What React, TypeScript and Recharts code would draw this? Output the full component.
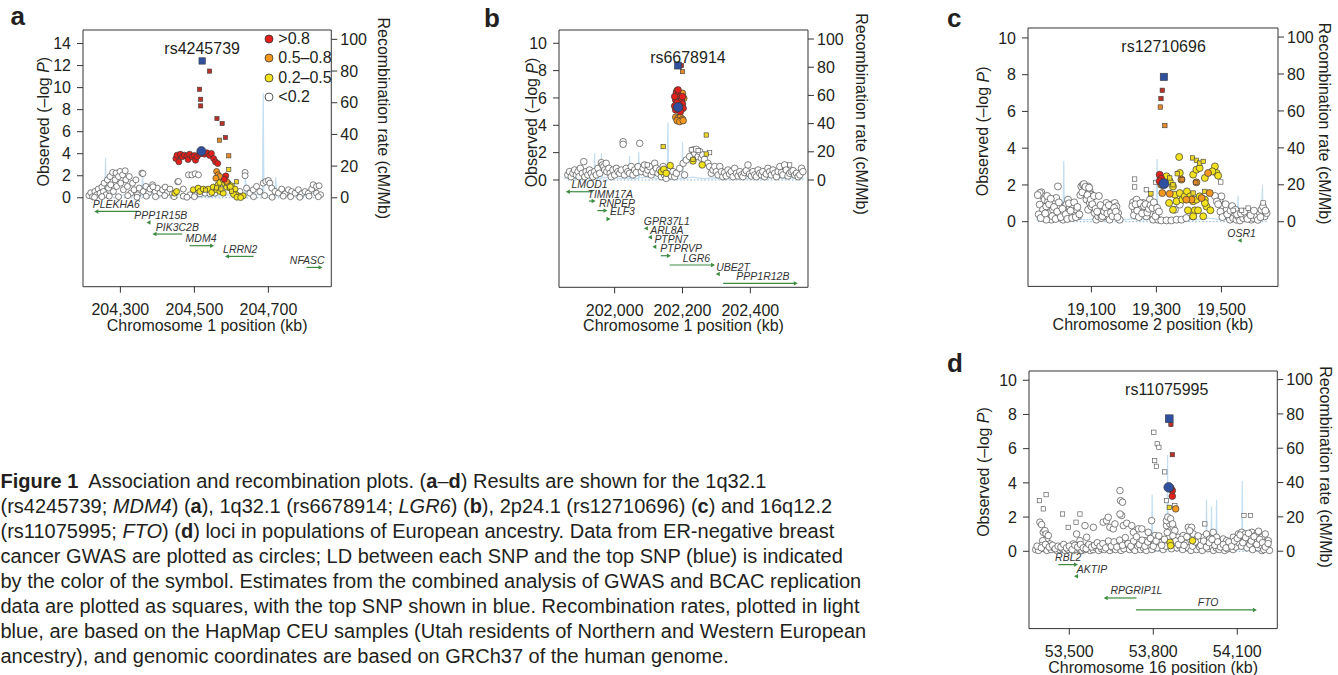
import React from 'react';
import {
  ComposedChart,
  Scatter,
  XAxis,
  YAxis,
  ReferenceLine,
  ReferenceDot,
  ReferenceArea,
  Legend,
} from 'recharts';

type Pt = [number, number];
// name, start (kb), end (kb), strand (+1 / -1), track (left axis units)
type Gene = [string, number, number, number, number];

const FONT = '"Liberation Sans", Arial, Helvetica, sans-serif';
const INK = '#231f20';
const GREEN = '#3d8b40';
const RECOMB = '#c3dff1';
const FILL = { red: '#e3201b', orange: '#f5981f', yellow: '#f3e21e', white: '#ffffff', blue: '#2f4f9f' };
const SQFILL = { red: '#b8322a', orange: '#e38a2b', yellow: '#ecd52a' };

const ldLabels = ['>0.8', '0.5–0.8', '0.2–0.5', '<0.2'];
const ldColors = [FILL.red, FILL.orange, FILL.yellow, FILL.white];

// ---------- a: 1q32.1, rs4245739 ----------
const aLow: Pt[] = [
  [204215, 0.2], [204220, 0.45], [204225, 0.1], [204231, 0.57], [204236, 0.27], [204240, 0.79], [204245, 0.42],
  [204250, 0.97], [204254, 0.57], [204256, 1.33], [204261, 0.27], [204265, 1.63], [204268, 0.88], [204272, 1.93],
  [204274, 1.18], [204279, 2.3], [204281, 0.57], [204286, 1.63], [204288, 2.24], [204290, 1.03], [204295, 1.93],
  [204299, 2.39], [204301, 1.33], [204306, 2.08], [204308, 0.73], [204313, 2.45], [204315, 1.63], [204319, 1.03],
  [204324, 1.93], [204328, 0.42], [204333, 1.33], [204337, 0.73], [204342, 1.63], [204346, 0.27], [204351, 0.88],
  [204358, 2.24], [204362, 0.57], [204369, 1.03], [204376, 0.42], [204380, 0.79], [204387, 1.18], [204394, 0.57],
  [204400, 0.88], [204407, 0.42], [204414, 0.73], [204421, 0.97], [204427, 0.48], [204434, 0.79], [204441, 0.36],
  [204361, 2.2], [204388, 1.0], [204455, 1.45], [204457, 1.48], [204470, 0.79], [204484, 2.08], [204493, 2.08],
  [204502, 2.18], [204511, 2.08], [204488, 0.27], [204502, 0.27], [204515, 0.36], [204529, 0.42], [204542, 0.36],
  [204556, 0.42], [204623, 0.57], [204637, 2.3], [204637, 2.0], [204641, 0.88], [204650, 0.42], [204659, 0.73],
  [204668, 1.03], [204677, 0.57], [204686, 1.33], [204693, 1.48], [204700, 1.57], [204704, 1.33], [204709, 0.88],
  [204718, 0.57], [204727, 0.42], [204736, 0.79], [204745, 0.36], [204754, 0.73], [204763, 0.57], [204772, 0.42],
  [204781, 0.73], [204790, 0.36], [204799, 0.57], [204808, 0.42], [204817, 0.79], [204821, 1.18], [204830, 1.03],
  [204837, 1.09], [204830, 0.42], [204841, 0.27], [204230, 0.05], [204250, 0.1], [204270, 0.15], [204295, 0.1],
  [204320, 0.2], [204345, 0.05], [204370, 0.15], [204395, 0.1], [204420, 0.2], [204445, 0.1], [204470, 0.15],
  [204480, 0.05], [204500, 0.1], [204660, 0.1], [204690, 0.2], [204710, 0.05], [204740, 0.15], [204760, 0.1],
  [204785, 0.05], [204810, 0.15], [204835, 0.1],
];
const aYellow: Pt[] = [
  [204447, 0.42], [204452, 0.57], [204497, 0.73], [204510, 0.88], [204515, 0.57], [204524, 0.79], [204537, 0.79],
  [204547, 0.48], [204551, 0.97], [204560, 0.73], [204564, 1.18], [204569, 1.39], [204569, 0.57], [204578, 1.63],
  [204578, 0.42], [204582, 1.27], [204587, 0.97], [204591, 1.33], [204596, 0.88], [204600, 1.09], [204605, 0.57],
  [204610, 0.79], [204614, 0.27], [204623, 0.12], [204632, 0.18], [204588, 1.36], [204597, 1.0], [204606, 0.3],
  [204615, 0.05], [204625, 0.02],
];
const aOrange: Pt[] = [[204560, 2.39], [204564, 2.08], [204569, 1.93], [204558, 1.78], [204587, 1.48]];
const aRed: Pt[] = [
  [204450, 3.56], [204453, 3.87], [204458, 3.26], [204462, 3.96], [204467, 3.72], [204473, 3.87], [204480, 3.78],
  [204483, 3.47], [204487, 3.96], [204494, 3.72], [204500, 3.84], [204503, 3.41], [204507, 3.72], [204514, 3.96],
  [204527, 3.96], [204534, 4.08], [204541, 3.84], [204546, 4.02], [204552, 3.56], [204557, 3.26], [204563, 3.11],
  [204585, 1.99], [204581, 1.69],
];
const aTop: Pt[] = [[204519, 4.23]];
const aSqLow: Pt[] = [];
const aSqYellow: Pt[] = [[204593, 2.57], [204614, 1.45], [204530, 0.7], [204572, 0.8], [204600, 0.6], [204560, 0.9]];
const aSqOrange: Pt[] = [[204568, 5.23], [204593, 3.81]];
const aSqRed: Pt[] = [[204541, 11.5], [204514, 9.85], [204517, 8.94], [204517, 8.34], [204561, 7.19], [204575, 6.74], [204584, 5.47]];
const aSqTop: Pt[] = [[204521, 12.42]];
const aRecomb: Pt[] = [
  [204210, 1], [204225, 2.5], [204240, 1.2], [204258, 1.5], [204260, 25], [204262, 1.5], [204280, 3], [204300, 1.5],
  [204320, 2], [204340, 1], [204358, 1.5], [204360, 18], [204362, 1.2], [204380, 2.5], [204400, 1], [204420, 3],
  [204440, 1.5], [204460, 2], [204480, 1], [204500, 0.5], [204520, 0.5], [204540, 0.5], [204560, 1], [204580, 1.5],
  [204600, 2], [204620, 1], [204636, 1.5], [204638, 15], [204640, 1.5], [204660, 2.5], [204684, 1.5], [204686, 66],
  [204688, 2], [204700, 1.5], [204718, 1], [204720, 13], [204722, 1.5], [204740, 3], [204760, 1.5], [204780, 2.5],
  [204800, 1], [204820, 3], [204840, 1.5],
];
const aGenes: Gene[] = [
  ['PLEKHA6', 204235, 204350, -1, -1.24],
  ['PPP1R15B', 204376, 204380, -1, -2.24],
  ['PIK3C2B', 204392, 204467, -1, -3.29],
  ['MDM4', 204487, 204548, 1, -4.35],
  ['LRRN2', 204588, 204660, -1, -5.32],
  ['NFASC', 204803, 204841, 1, -6.32],
];
const aGeneLabelKb = [204289, 204409, 204454, 204518, 204624, 204805];

// ---------- b: 1q32.1, rs6678914 ----------
const bLow: Pt[] = [
  [201862, 0.37], [201867, 0.61], [201872, 0.24], [201877, 0.49], [201882, 0.73], [201887, 0.37], [201892, 0.61],
  [201895, 0.24], [201899, 0.85], [201905, 0.49], [201909, 1.34], [201912, 0.24], [201916, 0.61], [201921, 0.37],
  [201926, 0.73], [201931, 0.49], [201936, 0.24], [201941, 0.61], [201946, 0.37], [201951, 0.85], [201956, 0.49],
  [201961, 1.27], [201964, 1.1], [201968, 0.98], [201971, 0.73], [201975, 1.22], [201977, 0.61], [201983, 0.85],
  [201987, 0.49], [201990, 0.24], [201995, 0.73], [202000, 0.37], [202005, 0.85], [202010, 0.61], [202015, 0.49],
  [202020, 0.73], [202025, 2.8], [202025, 2.61], [202029, 0.37], [202034, 0.85], [202039, 0.61], [202044, 0.49],
  [202049, 0.98], [202054, 0.37], [202059, 0.73], [202064, 0.54], [202069, 0.98], [202074, 2.68], [202079, 0.61],
  [202084, 0.85], [202088, 1.1], [202093, 0.49], [202098, 0.73], [202103, 0.98], [202108, 0.37], [202113, 0.61],
  [202118, 1.22], [202123, 0.85], [202128, 0.49], [202133, 0.73], [202138, 0.24], [202143, 0.98], [202147, 0.37],
  [202152, 0.12], [202157, 0.49], [202162, 0.73], [202167, 0.29], [202172, 0.61], [202177, 0.24], [202182, 0.49],
  [202192, 0.85], [202202, 1.22], [202206, 0.37], [202211, 1.46], [202221, 1.71], [202231, 2.2], [202236, 1.95],
  [202241, 2.24], [202246, 1.71], [202251, 2.07], [202256, 1.59], [202260, 1.83], [202265, 1.51], [202275, 1.22],
  [202280, 0.98], [202285, 0.49], [202290, 0.73], [202295, 0.98], [202300, 0.61], [202305, 0.37], [202310, 0.98],
  [202315, 0.61], [202319, 0.24], [202324, 0.54], [202329, 0.29], [202334, 0.73], [202339, 0.44], [202344, 0.61],
  [202349, 0.24], [202354, 0.85], [202359, 0.49], [202364, 0.29], [202369, 0.61], [202374, 0.37], [202378, 0.24],
  [202383, 0.54], [202388, 0.68], [202393, 1.1], [202398, 0.44], [202403, 0.29], [202408, 0.61], [202413, 0.37],
  [202418, 0.24], [202423, 0.73], [202428, 0.49], [202433, 0.37], [202437, 0.61], [202442, 0.24], [202447, 0.44],
  [202452, 0.85], [202457, 0.61], [202462, 0.37], [202467, 0.73], [202472, 0.49], [202477, 0.24], [202482, 0.61],
  [202487, 0.98], [202492, 0.54], [202496, 0.37], [202501, 1.1], [202506, 0.73], [202511, 0.29], [202516, 0.49],
  [202521, 0.61], [202526, 0.68], [202531, 0.37], [202536, 0.49], [202541, 0.24], [202546, 0.37], [202551, 0.85],
  [202555, 0.61],
];
const bYellow: Pt[] = [[202138, 0.61], [202145, 0.78], [202152, 0.49], [202164, 1.05], [202231, 1.39], [202258, 1.1]];
const bOrange: Pt[] = [
  [202180, 4.59], [202187, 4.51], [202194, 4.59], [202200, 4.44], [202184, 4.34], [202192, 4.27], [202202, 4.34],
  [202204, 5.98], [202184, 6.54], [202200, 6.34],
];
const bRed: Pt[] = [
  [202182, 6.39], [202187, 6.22], [202192, 6.05], [202180, 5.85], [202197, 5.85], [202184, 5.66], [202200, 5.56],
  [202177, 5.41], [202192, 5.41], [202202, 5.24], [202180, 5.12], [202194, 5.0], [202187, 6.59], [202200, 6.1],
  [202177, 6.1],
];
const bTop: Pt[] = [[202187, 5.32]];
const bSqLow: Pt[] = [[202226, 2.2], [202246, 2.15], [202280, 2.0], [202096, 1.1], [202516, 1.1]];
const bSqYellow: Pt[] = [[202143, 2.44], [202270, 3.29], [202270, 1.9], [202231, 1.51]];
const bSqOrange: Pt[] = [[202200, 7.93]];
const bSqRed: Pt[] = [[202197, 8.37]];
const bSqTop: Pt[] = [[202187, 8.37]];
const bRecomb: Pt[] = [
  [201850, 1], [201870, 2], [201890, 1], [201910, 1.5], [201940, 1], [201941, 19], [201943, 1], [201960, 1],
  [201961, 19], [201963, 1.5], [201990, 2], [202020, 1], [202043, 1.5], [202044, 17], [202046, 1], [202070, 1],
  [202071, 20], [202073, 1.5], [202100, 2], [202130, 1], [202155, 1], [202157, 41], [202159, 1.5], [202180, 1],
  [202199, 1], [202200, 27], [202202, 1], [202230, 2], [202260, 1], [202290, 1.5], [202320, 1], [202350, 2],
  [202380, 1], [202410, 1.5], [202440, 1], [202470, 2], [202500, 1], [202530, 1.5], [202560, 1],
];
const bGenes: Gene[] = [
  ['LMOD1', 201862, 201936, -1, -0.86],
  ['TIMM17A', 201924, 201938, 1, -1.54],
  ['RNPEP', 201949, 201973, 1, -2.24],
  ['ELF3', 201980, 201982, 1, -2.85],
  ['GPR37L1', 202092, 202094, -1, -3.54],
  ['ARL8A', 202104, 202106, -1, -4.19],
  ['PTPN7', 202117, 202119, -1, -4.88],
  ['PTPRVP', 202136, 202160, 1, -5.54],
  ['LGR6', 202162, 202290, 1, -6.22],
  ['UBE2T', 202304, 202306, -1, -6.88],
  ['PPP1R12B', 202320, 202534, 1, -7.56],
];
const bGeneLabelKb = [201926, 201987, 202007, 202023, 202154, 202154, 202167, 202196, 202241, 202349, 202437];

// ---------- c: 2p24.1, rs12710696 ----------
const cLow: Pt[] = [
  [18946, 1.6], [18951, 1.38], [18956, 1.2], [18941, 0.93], [18951, 0.65], [18961, 0.83], [18967, 1.11], [18972, 0.47],
  [18977, 0.11], [18961, 0.11], [18982, 0.65], [18987, 1.02], [18992, 1.29], [18997, 1.92], [19003, 0.83], [19008, 0.47],
  [19013, 0.11], [19018, 0.65], [19023, 0.93], [19028, 1.2], [19033, 0.74], [19038, 0.38], [19044, 0.83], [19049, 0.47],
  [19054, 0.65], [19059, 0.29], [19069, 1.92], [19074, 2.01], [19079, 1.74], [19085, 1.56], [19090, 1.92], [19095, 1.65],
  [19100, 1.47], [19105, 1.38], [19085, 1.2], [19095, 1.02], [19090, 0.65], [19100, 0.83], [19110, 0.47], [19115, 0.11],
  [19121, 0.29], [19126, 0.47], [19131, 0.2], [19136, 0.65], [19141, 0.83], [19146, 1.02], [19151, 0.65], [19156, 0.74],
  [19162, 0.93], [19167, 0.65], [19172, 1.02], [19177, 0.83], [19182, 0.47], [19187, 0.11], [19146, 0.29], [19156, 0.11],
  [18941, 1.56], [19228, 1.05], [19233, 0.65], [19239, 1.2], [19244, 0.93], [19249, 0.47], [19254, 0.74], [19259, 1.02],
  [19264, 0.65], [19269, 0.29], [19274, 0.83], [19280, 1.2], [19285, 0.47], [19290, 0.11], [19295, 0.83], [19300, 0.47],
  [19305, 0.11], [19315, 0.07], [19331, 0.07], [19346, 0.07], [19362, 0.11], [19377, 0.11], [19392, 0.2], [19413, 0.29],
  [19357, 0.65], [19372, 0.93], [19495, 1.2], [19500, 1.38], [19505, 0.83], [19510, 0.47], [19516, 0.65], [19521, 0.29],
  [19526, 0.11], [19531, 0.38], [19536, 0.2], [19541, 0.47], [19546, 0.11], [19551, 0.29], [19557, 0.07], [19567, 0.2],
  [19577, 0.29], [19587, 0.47], [19592, 0.11], [19598, 0.2], [19608, 0.29], [19618, 0.47], [19623, 0.65], [19628, 0.83],
  [19633, 0.29], [19639, 0.47], [19480, 1.4], [19486, 1.1],
  [18935, 1.45], [18938, 0.4], [18944, 0.2], [18958, 0.45], [18964, 1.4], [18970, 0.95], [18975, 1.25], [18980, 0.3],
  [18985, 0.8], [18990, 0.15], [18995, 0.55], [19000, 1.05], [19006, 0.25], [19011, 0.7], [19021, 0.4], [19026, 0.15],
  [19031, 1.0], [19036, 0.6], [19041, 0.2], [19047, 1.05], [19052, 0.25], [19057, 0.8], [19063, 0.4], [19066, 1.45],
  [19072, 1.6], [19077, 2.05], [19082, 1.9], [19088, 1.45], [19093, 1.85], [19098, 1.2], [19103, 0.95], [19108, 1.4],
  [19113, 0.7], [19118, 0.55], [19123, 1.4], [19128, 0.9], [19134, 0.3], [19139, 0.55], [19144, 0.75], [19149, 0.45],
  [19154, 0.9], [19160, 0.5], [19165, 0.3], [19170, 0.75], [19175, 0.55], [19180, 0.25], [19226, 0.85], [19231, 0.35],
  [19236, 0.95], [19241, 0.6], [19246, 0.25], [19251, 1.0], [19256, 0.45], [19262, 0.85], [19267, 0.95], [19272, 0.5],
  [19277, 0.7], [19282, 0.9], [19288, 0.75], [19292, 1.05], [19297, 0.3], [19302, 0.75], [19308, 0.55], [19490, 0.95],
  [19497, 0.55], [19503, 0.25], [19513, 0.95], [19518, 0.4], [19528, 0.6], [19533, 0.85], [19543, 0.65], [19548, 0.4],
  [19560, 0.45], [19570, 0.55], [19580, 0.15], [19590, 0.35], [19600, 0.6], [19612, 0.1], [19620, 0.25], [19635, 0.6],
];
const cYellow: Pt[] = [
  [19370, 3.52], [19331, 2.47], [19341, 2.2], [19351, 1.92], [19357, 1.47], [19362, 1.11], [19372, 1.56], [19380, 1.2],
  [19387, 1.38], [19394, 1.65], [19404, 1.38], [19413, 1.11], [19418, 0.62], [19428, 0.62], [19444, 0.29], [19413, 0.29],
  [19397, 0.62], [19423, 1.2], [19433, 1.38], [19449, 1.2], [19454, 0.83], [19466, 0.62], [19480, 3.01], [19485, 2.65],
  [19472, 2.74], [19490, 2.5], [19449, 1.02], [19413, 2.56], [19423, 2.83], [19433, 2.92], [19449, 2.38], [19372, 2.65],
  [19339, 1.02], [19351, 0.65],
];
const cOrange: Pt[] = [
  [19315, 2.01], [19318, 1.56], [19341, 1.52], [19408, 1.2], [19423, 2.14], [19439, 1.29], [19459, 2.65], [19464, 1.56],
  [19377, 2.29], [19392, 1.2],
];
const cRed: Pt[] = [[19310, 2.56], [19315, 2.34], [19310, 2.2]];
const cTop: Pt[] = [[19323, 2.07]];
const cSqLow: Pt[] = [[19233, 2.32], [19233, 1.89], [19269, 1.74], [19298, 2.14], [19498, 2.16], [19536, 0.62], [19562, 0.62], [19582, 0.74], [19628, 1.02]];
const cSqYellow: Pt[] = [
  [19411, 3.47], [19423, 3.34], [19433, 3.19], [19444, 3.28], [19364, 2.61], [19341, 2.38], [19351, 2.01], [19283, 1.52],
  [19449, 1.65], [19413, 1.56],
];
const cSqOrange: Pt[] = [[19312, 6.24], [19326, 5.23], [19379, 2.29], [19421, 2.14]];
const cSqRed: Pt[] = [[19318, 7.15], [19314, 6.7]];
const cSqTop: Pt[] = [[19323, 7.88]];
const cRecomb: Pt[] = [
  [18930, 1], [18960, 2], [18990, 1], [19013, 1.5], [19015, 33], [19017, 1], [19050, 2], [19080, 1], [19110, 1.5],
  [19140, 1], [19170, 2], [19200, 1], [19230, 1.5], [19260, 1], [19300, 1.5], [19302, 34], [19304, 1], [19340, 1],
  [19380, 1.5], [19420, 1], [19460, 2], [19500, 1], [19530, 1.5], [19549, 1], [19551, 14], [19553, 1], [19590, 1.5],
  [19624, 1], [19626, 20], [19628, 1], [19640, 1.5],
];
const cGenes: Gene[] = [['OSR1', 19556, 19558, -1, -1.02]];
const cGeneLabelKb = [19562];

// ---------- d: 16q12.2, rs11075995 ----------
const dLow: Pt[] = [
  [53395, 1.7], [53401, 1.56], [53407, 1.11], [53413, 1.21], [53417, 1.01], [53419, 0.72], [53425, 0.92], [53405, 0.62],
  [53401, 0.33], [53395, 0.14], [53431, 0.43], [53556, 1.5], [53586, 1.4], [53562, 0.82], [53538, 0.62], [53526, 1.01],
  [53514, 0.43], [53598, 0.23], [53621, 1.7], [53633, 1.79], [53639, 1.99], [53645, 1.4], [53657, 1.31], [53663, 1.6],
  [53681, 3.55], [53683, 2.96], [53690, 2.87], [53687, 2.09], [53681, 2.18], [53693, 1.5], [53705, 1.64], [53723, 1.5],
  [53729, 1.11], [53747, 1.31], [53759, 1.31], [53770, 0.62], [53782, 1.11], [53794, 1.79], [53806, 0.92], [53818, 0.82],
  [53847, 1.5], [53859, 1.6], [53871, 1.4], [53877, 1.21], [53889, 0.82], [53895, 0.62], [53907, 0.92], [53925, 1.4],
  [53937, 1.4], [53943, 1.01], [53955, 0.72], [53967, 0.62], [53979, 0.82], [53990, 1.01], [54002, 0.72], [54014, 1.11],
  [54026, 0.82], [54038, 0.43], [54050, 0.72], [54062, 0.62], [54074, 0.23], [54086, 0.82], [54104, 1.01], [54116, 1.11],
  [54128, 1.01], [54140, 0.82], [54152, 1.11], [54164, 0.92], [54176, 1.17], [54188, 0.82], [54200, 1.01], [54211, 0.62],
  [54188, 0.04], [53847, 1.79], [53852, 2.0], [53862, 1.9], [53869, 1.6],
  [53380, 0.1], [53390, 0.05], [53410, 0.15], [53420, 0.05], [53435, 0.1], [53445, 0.2], [53455, 0.05], [53465, 0.1],
  [53475, 0.15], [53485, 0.05], [53495, 0.1], [53505, 0.2], [53515, 0.05], [53525, 0.1], [53535, 0.15], [53545, 0.05],
  [53555, 0.1], [53565, 0.3], [53575, 0.05], [53585, 0.1], [53595, 0.2], [53605, 0.05], [53615, 0.15], [53625, 0.1],
  [53635, 0.35], [53645, 0.05], [53655, 0.2], [53665, 0.1], [53675, 0.3], [53685, 0.05], [53695, 0.15], [53705, 0.4],
  [53715, 0.1], [53725, 0.2], [53735, 0.05], [53745, 0.3], [53755, 0.1], [53765, 0.2], [53775, 0.05], [53785, 0.35],
  [53795, 0.1], [53805, 0.45], [53815, 0.2], [53825, 0.5], [53835, 0.1], [53845, 0.3], [53855, 0.8], [53865, 0.15],
  [53875, 0.5], [53885, 0.2], [53895, 0.3], [53905, 0.1], [53915, 0.45], [53925, 0.2], [53935, 0.05], [53945, 0.3],
  [53955, 0.1], [53965, 0.25], [53975, 0.05], [53985, 0.4], [53995, 0.15], [54005, 0.3], [54015, 0.05], [54025, 0.2],
  [54035, 0.1], [54045, 0.3], [54055, 0.05], [54065, 0.15], [54075, 0.4], [54085, 0.1], [54095, 0.25], [54105, 0.5],
  [54115, 0.3], [54125, 0.6], [54135, 0.2], [54145, 0.4], [54155, 0.1], [54165, 0.5], [54175, 0.2], [54185, 0.35],
  [54195, 0.1], [54205, 0.3], [54215, 0.05],
  [53385, 0.3], [53400, 0.2], [53415, 0.4], [53428, 0.25], [53440, 0.35], [53450, 0.15], [53460, 0.3], [53470, 0.25],
  [53480, 0.4], [53490, 0.2], [53500, 0.3], [53510, 0.1], [53520, 0.35], [53530, 0.25], [53540, 0.4], [53550, 0.2],
  [53560, 0.15], [53570, 0.4], [53580, 0.25], [53590, 0.35], [53600, 0.5], [53610, 0.3], [53620, 0.45], [53630, 0.2],
  [53640, 0.6], [53650, 0.3], [53660, 0.55], [53670, 0.25], [53680, 0.65], [53690, 0.35], [53700, 0.8], [53710, 0.45],
  [53720, 0.3], [53730, 0.6], [53740, 0.85], [53750, 0.4], [53760, 0.65], [53770, 0.3], [53780, 0.55], [53790, 0.75],
  [53800, 0.3], [53810, 0.6], [53820, 0.9], [53830, 0.35], [53840, 0.7], [53850, 1.1], [53870, 0.9], [53880, 0.6],
  [53890, 0.4], [53900, 0.7], [53910, 0.35], [53920, 0.85], [53930, 1.2], [53940, 0.3], [53950, 0.55], [53960, 0.9],
  [53970, 0.35], [53980, 0.6], [53990, 0.25], [54000, 0.5], [54010, 0.7], [54020, 0.35], [54030, 0.55], [54040, 0.25],
  [54050, 0.4], [54060, 0.2], [54070, 0.55], [54080, 0.3], [54090, 0.6], [54100, 0.75], [54110, 0.95], [54120, 0.5],
  [54130, 0.8], [54140, 1.05], [54150, 0.6], [54160, 0.85], [54170, 0.4], [54180, 0.7], [54190, 0.5], [54200, 0.25],
  [54210, 0.45],
];
const dYellow: Pt[] = [[53860, 0.53], [53862, 0.33], [53940, 0.62]];
const dOrange: Pt[] = [[53880, 2.48]];
const dRed: Pt[] = [[53868, 3.55], [53868, 3.22], [53863, 3.7]];
const dTop: Pt[] = [[53855, 3.74]];
const dSqLow: Pt[] = [
  [53802, 6.96], [53814, 6.28], [53820, 6.08], [53805, 5.3], [53811, 4.97], [53841, 4.64], [53847, 2.96], [53393, 2.96],
  [53417, 3.31], [53407, 2.48], [53476, 2.18], [53496, 1.4], [53524, 1.7], [53538, 2.18], [53984, 1.6], [54124, 2.09],
  [54147, 2.09], [53877, 2.67],
];
const dSqYellow: Pt[] = [[53857, 2.57]];
const dSqOrange: Pt[] = [];
const dSqRed: Pt[] = [[53863, 7.41], [53868, 5.65]];
const dSqTop: Pt[] = [[53857, 7.75]];
const dRecomb: Pt[] = [
  [53370, 1], [53400, 2], [53430, 1], [53460, 1.5], [53490, 1], [53520, 2], [53550, 1], [53580, 1.5], [53610, 1],
  [53640, 2], [53670, 1], [53700, 1.5], [53730, 1], [53760, 2], [53794, 1], [53796, 33], [53798, 1], [53830, 1.5],
  [53849, 1], [53851, 56], [53853, 1], [53880, 2], [53910, 1], [53940, 1.5], [53970, 1], [53988, 1.5], [53990, 30],
  [53992, 1], [54006, 1], [54008, 26], [54010, 1], [54024, 1], [54026, 30], [54028, 1], [54060, 1.5], [54090, 1],
  [54116, 1.5], [54118, 41], [54120, 1], [54150, 2], [54180, 1], [54210, 1.5],
];
const dGenes: Gene[] = [
  ['RBL2', 53461, 53524, 1, -0.78],
  ['AKTIP', 53524, 53532, -1, -1.46],
  ['RPGRIP1L', 53630, 53740, -1, -2.73],
  ['FTO', 53738, 54163, 1, -3.43],
];
const dGeneLabelKb = [53496, 53581, 53740, 53996];

const yTicks14 = [0, 2, 4, 6, 8, 10, 12, 14];
const yTicks10 = [0, 2, 4, 6, 8, 10];
const rTicks = [0, 20, 40, 60, 80, 100];

const pts = (a: Pt[]) => a.map(([x, y]) => ({ x, y }));
const fmt = (v: number) => v.toLocaleString('en-US');

const circle = (fill: string, r: number, stroke = '#3a3a3a') => (p: any) => (
  <circle cx={p.cx} cy={p.cy} r={r} fill={fill} stroke={stroke} strokeWidth={0.7} />
);
const square = (fill: string, s: number, stroke = '#3a3a3a') => (p: any) => (
  <rect x={p.cx - s / 2} y={p.cy - s / 2} width={s} height={s} fill={fill} stroke={stroke} strokeWidth={0.6} />
);

const geneShape = (g: Gene, labelKb: number) => (p: any) => {
  const [name, start, end, strand] = g;
  const { x1, y1, x2 } = p;
  const xs = Math.min(x1, x2);
  const xe = Math.max(x1, x2);
  const pxPerKb = (x2 - x1) / (end - start);
  const lx = x1 + (labelKb - start) * pxPerKb;
  const head = strand > 0 ? `M${xe + 2},${y1} l-4,-2.2 v4.4 z` : `M${xs - 2},${y1} l4,-2.2 v4.4 z`;
  return (
    <g>
      <line x1={xs} y1={y1} x2={xe} y2={y1} stroke={GREEN} strokeWidth={1.2} />
      <path d={head} fill={GREEN} />
      <text x={lx} y={y1 - 3.5} textAnchor="middle" fontSize={10.5} fontStyle="italic" fill="#333" fontFamily={FONT}>
        {name}
      </text>
    </g>
  );
};

interface PanelSpec {
  snp: string;
  chrom: string;
  box: { left: number; top: number; w: number; h: number };
  x: [number, number];
  xTicks: number[];
  y: [number, number];
  yTicks: number[];
  r: [number, number];
  snpAt: Pt;
  circles: Pt[][]; // low, yellow, orange, red, top
  squares: Pt[][]; // low, yellow, orange, red, top
  recomb: Pt[];
  genes: Gene[];
  geneLabels: number[];
  titles: { yx: number; yy: number; rx: number; ry: number };
  marks: { r: number; rTop: number; sq: number; sqTop: number };
  legend?: boolean;
}

const LW = 80;
const RW = 72;
const TM = 30;
const XH = 56;
const tickStyle = { fontSize: 16, fill: INK, fontFamily: FONT };

function LocusPanel({ p }: { p: PanelSpec }) {
  const ox = p.box.left - LW;
  const oy = p.box.top - TM;
  const lx = (v: number) => v - ox;
  const ly = (v: number) => v - oy;
  const xs = p.circles[0].map((d) => d[0]);
  const span = [Math.min(...xs), Math.max(...xs)];
  const [cLow, cYel, cOra, cRed, cTop] = p.circles;
  const [sLow, sYel, sOra, sRed, sTop] = p.squares;
  const m = p.marks;

  const yTitle = () => {
    const x = lx(p.titles.yx);
    const y = ly(p.titles.yy);
    return (
      <text x={x} y={y} transform={`rotate(-90 ${x} ${y})`} textAnchor="middle" dominantBaseline="central"
        fontSize={16} fill={INK} fontFamily={FONT}>
        Observed (–log <tspan fontStyle="italic">P</tspan>)
      </text>
    );
  };
  const rTitle = () => {
    const x = lx(p.titles.rx);
    const y = ly(p.titles.ry);
    return (
      <text x={x} y={y} transform={`rotate(90 ${x} ${y})`} textAnchor="middle" dominantBaseline="central"
        fontSize={16} fill={INK} fontFamily={FONT}>
        Recombination rate (cM/Mb)
      </text>
    );
  };
  const xTitle = () => (
    <text x={LW + p.box.w / 2} y={TM + p.box.h + 38.5} textAnchor="middle" dominantBaseline="central"
      fontSize={16} fill={INK} fontFamily={FONT}>
      {p.chrom}
    </text>
  );

  return (
    <div style={{ position: 'absolute', left: ox, top: oy }}>
      <ComposedChart width={LW + p.box.w + RW} height={TM + p.box.h + XH} margin={{ top: TM, right: 0, bottom: 0, left: 0 }}>
        <XAxis dataKey="x" type="number" domain={p.x} ticks={p.xTicks} allowDataOverflow interval={0}
          height={XH} axisLine={false} tickLine={{ stroke: '#333' }} tickSize={6} tickMargin={11}
          tick={tickStyle} tickFormatter={fmt} label={xTitle} />
        <YAxis yAxisId="left" dataKey="y" type="number" domain={p.y} ticks={p.yTicks} allowDataOverflow interval={0}
          width={LW} axisLine={false} tickLine={{ stroke: '#333' }} tickSize={6} tickMargin={6}
          tick={tickStyle} label={yTitle} />
        <YAxis yAxisId="right" orientation="right" dataKey="y" type="number" domain={p.r} ticks={rTicks}
          allowDataOverflow interval={0} width={RW} axisLine={false} tickLine={{ stroke: '#333' }} tickSize={6}
          tickMargin={3} tick={tickStyle} label={rTitle} />

        <Scatter yAxisId="right" data={pts(p.recomb)} line={{ stroke: RECOMB, strokeWidth: 1.2 }}
          shape={() => <g />} isAnimationActive={false} />
        <ReferenceLine yAxisId="left" segment={[{ x: span[0], y: 0 }, { x: span[1], y: 0 }]}
          stroke="#6b9cc6" strokeDasharray="1.5 2" strokeWidth={0.8} ifOverflow="visible" />

        {p.genes.map((g, i) => (
          <ReferenceLine key={g[0]} yAxisId="left" segment={[{ x: g[1], y: g[4] }, { x: g[2], y: g[4] }]}
            ifOverflow="visible" shape={geneShape(g, p.geneLabels[i])} />
        ))}

        <Scatter yAxisId="left" data={pts(cLow)} shape={circle(FILL.white, m.r, '#4a4a4a')} isAnimationActive={false} />
        <Scatter yAxisId="left" data={pts(sLow)} shape={square(FILL.white, m.sq, '#4a4a4a')} isAnimationActive={false} />
        <Scatter yAxisId="left" data={pts(cYel)} shape={circle(FILL.yellow, m.r)} isAnimationActive={false} />
        <Scatter yAxisId="left" data={pts(sYel)} shape={square(SQFILL.yellow, m.sq)} isAnimationActive={false} />
        <Scatter yAxisId="left" data={pts(cOra)} shape={circle(FILL.orange, m.r)} isAnimationActive={false} />
        <Scatter yAxisId="left" data={pts(sOra)} shape={square(SQFILL.orange, m.sq)} isAnimationActive={false} />
        <Scatter yAxisId="left" data={pts(cRed)} shape={circle(FILL.red, m.r)} isAnimationActive={false} />
        <Scatter yAxisId="left" data={pts(sRed)} shape={square(SQFILL.red, m.sq)} isAnimationActive={false} />
        <Scatter yAxisId="left" data={pts(cTop)} shape={circle(FILL.blue, m.rTop)} isAnimationActive={false} />
        <Scatter yAxisId="left" data={pts(sTop)} shape={square(FILL.blue, m.sqTop)} isAnimationActive={false} />

        <ReferenceDot yAxisId="left" x={p.snpAt[0]} y={p.snpAt[1]} r={0} fill="none" stroke="none" ifOverflow="visible"
          label={{ value: p.snp, position: 'center', fontSize: 16, fill: INK, fontFamily: FONT }} />
        <ReferenceArea yAxisId="left" x1={p.x[0]} x2={p.x[1]} y1={p.y[0]} y2={p.y[1]} fill="none"
          fillOpacity={0} stroke="#333" strokeWidth={1} ifOverflow="visible" />

        {p.legend && (
          <Legend layout="vertical" align="center" verticalAlign="middle"
            wrapperStyle={{ left: lx(264.3), top: ly(29.3), width: 'auto' }}
            content={() => (
              <div style={{ fontFamily: FONT, fontSize: 16, color: INK }}>
                {ldLabels.map((t, i) => (
                  <div key={t} style={{ display: 'flex', alignItems: 'center', height: 19.33 }}>
                    <svg width={10} height={10} style={{ display: 'block' }}>
                      <circle cx={5} cy={5} r={4} fill={ldColors[i]} stroke="#333" strokeWidth={0.8} />
                    </svg>
                    <span style={{ marginLeft: 4 }}>{t}</span>
                  </div>
                ))}
              </div>
            )} />
        )}
      </ComposedChart>
    </div>
  );
}

const panels: PanelSpec[] = [
  {
    snp: 'rs4245739', chrom: 'Chromosome 1 position (kb)',
    box: { left: 82.7, top: 30, w: 248.3, h: 256.7 },
    x: [204199, 204870], xTicks: [204300, 204500, 204700], y: [-8.07, 15.23], yTicks: yTicks14, r: [-56.1, 105.9],
    snpAt: [204521, 13.6],
    circles: [aLow, aYellow, aOrange, aRed, aTop], squares: [aSqLow, aSqYellow, aSqOrange, aSqRed, aSqTop],
    recomb: aRecomb, genes: aGenes, geneLabels: aGeneLabelKb,
    titles: { yx: 43, yy: 121.7, rx: 383, ry: 118.3 },
    marks: { r: 3, rTop: 4.6, sq: 4.2, sqTop: 6.4 }, legend: true,
  },
  {
    snp: 'rs6678914', chrom: 'Chromosome 1 position (kb)',
    box: { left: 559.3, top: 30, w: 249, h: 257.3 },
    x: [201836, 202570], xTicks: [202000, 202200, 202400], y: [-7.85, 10.97], yTicks: yTicks10, r: [-76.1, 106.4],
    snpAt: [202216, 9.0],
    circles: [bLow, bYellow, bOrange, bRed, bTop], squares: [bSqLow, bSqYellow, bSqOrange, bSqRed, bSqTop],
    recomb: bRecomb, genes: bGenes, geneLabels: bGeneLabelKb,
    titles: { yx: 532, yy: 122.5, rx: 861.5, ry: 114 },
    marks: { r: 3.3, rTop: 4.7, sq: 4.3, sqTop: 7 },
  },
  {
    snp: 'rs12710696', chrom: 'Chromosome 2 position (kb)',
    box: { left: 1028.3, top: 28.3, w: 250, h: 258.4 },
    x: [18905, 19674], xTicks: [19100, 19300, 19500], y: [-3.52, 10.54], yTicks: yTicks10, r: [-35.0, 104.9],
    snpAt: [19322, 9.55],
    circles: [cLow, cYellow, cOrange, cRed, cTop], squares: [cSqLow, cSqYellow, cSqOrange, cSqRed, cSqTop],
    recomb: cRecomb, genes: cGenes, geneLabels: cGeneLabelKb,
    titles: { yx: 983.3, yy: 131.7, rx: 1325, ry: 124 },
    marks: { r: 3.5, rTop: 5, sq: 4.4, sqTop: 7.3 },
  },
  {
    snp: 'rs11075995', chrom: 'Chromosome 16 position (kb)',
    box: { left: 1029, top: 370.7, w: 248.3, h: 257.6 },
    x: [53356, 54243], xTicks: [53500, 53800, 54100], y: [-4.52, 10.54], yTicks: yTicks10, r: [-45.1, 105],
    snpAt: [53848, 9.45],
    circles: [dLow, dYellow, dOrange, dRed, dTop], squares: [dSqLow, dSqYellow, dSqOrange, dSqRed, dSqTop],
    recomb: dRecomb, genes: dGenes, geneLabels: dGeneLabelKb,
    titles: { yx: 983.3, yy: 471.7, rx: 1325, ry: 466.7 },
    marks: { r: 3.3, rTop: 4.8, sq: 4.3, sqTop: 7.8 },
  },
];

const letters: [string, number, number][] = [
  ['a', 10.5, 3],
  ['b', 484, 4.7],
  ['c', 947, 4.7],
  ['d', 947, 349.7],
];

export default function App() {
  return (
    <div style={{ position: 'relative', width: 1338, height: 675, overflow: 'hidden', background: '#fff', fontFamily: FONT }}>
      <style>{'body{margin:0}'}</style>
      {panels.map((p) => (
        <LocusPanel key={p.snp} p={p} />
      ))}
      {letters.map(([t, x, y]) => (
        <div key={t} style={{ position: 'absolute', left: x, top: y, fontSize: 26, lineHeight: 1, fontWeight: 700, color: INK }}>
          {t}
        </div>
      ))}
      <div style={{ position: 'absolute', left: 0.5, top: 468.5, fontSize: 20, lineHeight: '25px', color: INK, whiteSpace: 'nowrap' }}>
        <div><b>Figure 1</b>&nbsp; Association and recombination plots. (<b>a</b>–<b>d</b>) Results are shown for the 1q32.1</div>
        <div>(rs4245739; <i>MDM4</i>) (<b>a</b>), 1q32.1 (rs6678914; <i>LGR6</i>) (<b>b</b>), 2p24.1 (rs12710696) (<b>c</b>) and 16q12.2</div>
        <div>(rs11075995; <i>FTO</i>) (<b>d</b>) loci in populations of European ancestry. Data from ER-negative breast</div>
        <div>cancer GWAS are plotted as circles; LD between each SNP and the top SNP (blue) is indicated</div>
        <div>by the color of the symbol. Estimates from the combined analysis of GWAS and BCAC replication</div>
        <div>data are plotted as squares, with the top SNP shown in blue. Recombination rates, plotted in light</div>
        <div>blue, are based on the HapMap CEU samples (Utah residents of Northern and Western European</div>
        <div>ancestry), and genomic coordinates are based on GRCh37 of the human genome.</div>
      </div>
    </div>
  );
}
